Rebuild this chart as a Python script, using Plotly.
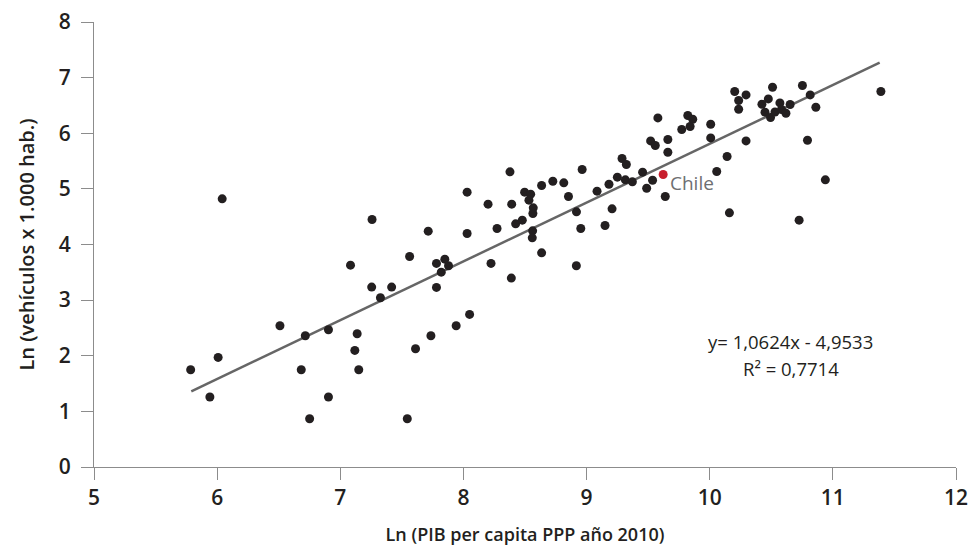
import plotly.graph_objects as go

# Ln(PIB per capita PPP 2010) vs Ln(vehículos x 1.000 hab.)
x_vals = [
    5.785, 6.008, 5.941, 6.510, 6.716, 6.683, 6.751, 6.904, 6.904, 7.083,
    7.137, 7.118, 7.150, 7.255, 7.417, 7.326, 7.563, 7.611, 7.544,
    7.736, 7.941, 8.050, 7.781, 7.781, 7.849, 7.879, 7.820,
    6.041, 7.258,
    7.714, 8.030, 8.030, 8.200, 8.273, 8.378, 8.392, 8.424, 8.478, 8.497,
    8.546, 8.532, 8.567, 8.564, 8.562, 8.559, 8.635, 8.726, 8.815, 8.853,
    8.918, 8.953, 8.964, 9.085, 9.150, 9.182, 9.207, 9.250, 9.288, 9.323,
    9.315, 9.372, 9.455, 9.488, 9.536, 9.520, 9.558, 9.579, 9.639, 9.660,
    9.660,
    8.224, 8.389, 8.635, 8.917,
    9.773, 9.822, 9.862, 9.841, 10.008, 10.008, 10.141, 10.057, 10.160, 10.203,
    10.235, 10.235, 10.295, 10.295, 10.510, 10.476, 10.424, 10.449, 10.494, 10.530,
    10.570, 10.583, 10.619, 10.653, 10.753, 10.816, 10.862, 10.794, 10.939, 10.726,
    11.390,
]
y_vals = [
    1.748, 1.970, 1.258, 2.539, 2.359, 1.748, 0.868, 2.467, 1.258, 3.629,
    2.395, 2.096, 1.748, 3.234, 3.234, 3.042, 3.785, 2.125, 0.868,
    2.359, 2.539, 2.743, 3.228, 3.660, 3.737, 3.617, 3.503,
    4.821, 4.450,
    4.240, 4.941, 4.198, 4.725, 4.288, 5.306, 4.725, 4.371, 4.438, 4.941,
    4.905, 4.797, 4.659, 4.558, 4.246, 4.120, 5.061, 5.138, 5.108, 4.863,
    4.587, 4.288, 5.348, 4.959, 4.342, 5.084, 4.641, 5.210, 5.546, 5.438,
    5.162, 5.126, 5.300, 5.012, 5.156, 5.862, 5.779, 6.276, 4.863, 5.887,
    5.659,
    3.660, 3.396, 3.850, 3.617,
    6.067, 6.319, 6.252, 6.121, 6.162, 5.916, 5.582, 5.312, 4.569, 6.750,
    6.588, 6.432, 6.689, 5.862, 6.827, 6.617, 6.522, 6.378, 6.283, 6.383,
    6.545, 6.426, 6.360, 6.516, 6.858, 6.689, 6.468, 5.875, 5.162, 4.438,
    6.750,
]

chile_x = [9.622]
chile_y = [5.258]
chile_label = "Chile"

trend_x = [5.79, 11.38]
trend_y = [1.36, 7.27]

eq_text = ["y= 1,0624x - 4,9533", "R² = 0,7714"]

x_title = "Ln (PIB per capita PPP año 2010)"
y_title = "Ln (vehículos x 1.000 hab.)"
x_ticks = [5, 6, 7, 8, 9, 10, 11, 12]
y_ticks = [0, 1, 2, 3, 4, 5, 6, 7, 8]

FONT = "Open Sans"
DARK = "#231f20"
AXIS = "#8c8c8c"

fig = go.Figure()
fig.add_trace(go.Scatter(x=trend_x, y=trend_y, mode="lines",
                         line=dict(color="#666666", width=2.5), hoverinfo="skip"))
fig.add_trace(go.Scatter(x=x_vals, y=y_vals, mode="markers",
                         marker=dict(color=DARK, size=9, line=dict(width=0))))
fig.add_trace(go.Scatter(x=chile_x, y=chile_y, mode="markers",
                         marker=dict(color="#c81e2d", size=9, line=dict(width=0))))

fig.add_annotation(x=chile_x[0], y=chile_y[0], text=chile_label, showarrow=False,
                   xanchor="left", yanchor="middle", xshift=5, yshift=-8,
                   font=dict(family=FONT, size=19, color="#6d6e71"))
fig.add_annotation(x=10.66, y=2.25, text=eq_text[0], showarrow=False,
                   xanchor="center", yanchor="middle",
                   font=dict(family=FONT, size=18.5, color=DARK))
fig.add_annotation(x=10.66, y=1.77, text=eq_text[1], showarrow=False,
                   xanchor="center", yanchor="middle",
                   font=dict(family=FONT, size=18.5, color=DARK))

axis_common = dict(showgrid=False, zeroline=False, showline=True, linecolor=AXIS,
                   linewidth=1, ticks="outside", ticklen=12, tickcolor=AXIS,
                   tickwidth=1,
                   tickfont=dict(family=FONT, size=21, color=DARK, weight=600))

fig.update_xaxes(range=[5, 12], tickvals=x_ticks, **axis_common,
                 title=dict(text=x_title, standoff=18,
                            font=dict(family=FONT, size=18, color=DARK, weight=600)))
fig.update_yaxes(range=[0, 8], tickvals=y_ticks, ticklabelstandoff=6, **axis_common,
                 title=dict(text=y_title, standoff=18,
                            font=dict(family=FONT, size=20, color=DARK, weight=600)))

fig.update_layout(width=970, height=558, showlegend=False,
                  plot_bgcolor="white", paper_bgcolor="white",
                  margin=dict(l=94, r=14, t=22, b=91, autoexpand=False))

fig.write_html("out.html")
